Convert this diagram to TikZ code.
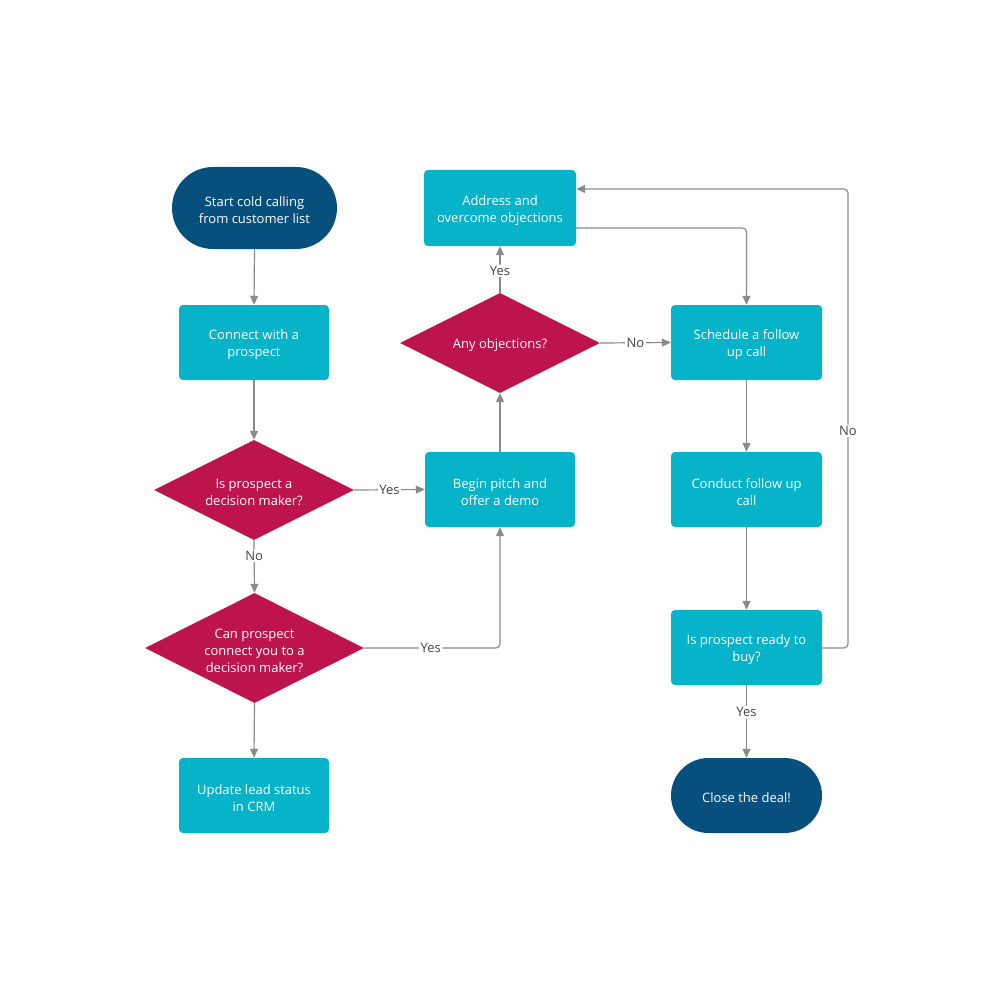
\documentclass[tikz,border=0pt]{standalone}
\usepackage{fontspec}
\setmainfont{Open Sans}
\usetikzlibrary{shapes.geometric,arrows.meta}
\definecolor{navy}{HTML}{07507E}
\definecolor{teal}{HTML}{07B3C9}
\definecolor{crim}{HTML}{BE144E}
\definecolor{linec}{HTML}{8A8A8A}
\definecolor{labc}{HTML}{444444}
\begin{document}
\begin{tikzpicture}[x=1pt,y=-1pt,
  base/.style={inner sep=0pt},
  txt/.style={text=white,font=\fontsize{13}{17}\selectfont,align=center,inner sep=0pt,yshift=-2.5pt},
  procbox/.style={base,fill=teal,rounded corners=4pt,minimum width=150pt,minimum height=75pt},
  termbox/.style={base,fill=navy,rounded corners=37.5pt,minimum width=151pt,minimum height=75pt},
  decbox/.style={base,fill=crim,diamond,aspect=2},
  conn/.style={draw=linec,line width=1.2pt,-{Triangle[length=9pt,width=8pt]},rounded corners=4pt},
  lab/.style={fill=white,text=labc,font=\fontsize{13}{15}\selectfont,inner sep=1.5pt}
]
\useasboundingbox (0,0) rectangle (1000,1000);
\node[termbox,minimum width=165pt,minimum height=82pt,rounded corners=41pt] (start) at (254.5,208) {};
\node[procbox] (connect) at (254,342.5) {};
\node[decbox,minimum width=200pt,minimum height=100pt] (d1) at (254,490) {};
\node[decbox,minimum width=219pt,minimum height=110pt] (d2) at (254.5,648) {};
\node[procbox] (update) at (254,795.5) {};
\node[procbox] (pitch) at (500,489.5) {};
\node[decbox,minimum width=200pt,minimum height=100pt] (obj) at (500,343) {};
\node[procbox,minimum width=152pt,minimum height=76pt] (address) at (500,208) {};
\node[procbox,minimum width=151pt] (sched) at (746.5,342.5) {};
\node[procbox,minimum width=151pt] (conduct) at (746.5,489.5) {};
\node[procbox,minimum width=151pt] (ready) at (746.5,647.5) {};
\node[termbox] (close) at (746.5,795.5) {};

\node[txt] (tstart) at (start) {Start cold calling\\from customer list};
\node[txt] (tconnect) at (connect) {Connect with a\\prospect};
\node[txt] (td1) at (d1) {Is prospect a\\decision maker?};
\node[txt] (td2) at (d2) {Can prospect\\connect you to a\\decision maker?};
\node[txt] (tupdate) at (update) {Update lead status\\in CRM};
\node[txt] (tpitch) at (pitch) {Begin pitch and\\offer a demo};
\node[txt] (tobj) at (obj) {Any objections?};
\node[txt] (taddress) at (address) {Address and\\overcome objections};
\node[txt] (tsched) at (sched) {Schedule a follow\\up call};
\node[txt] (tconduct) at (conduct) {Conduct follow up\\call};
\node[txt] (tready) at (ready) {Is prospect ready to\\buy?};
\node[txt] (tclose) at (close) {Close the deal!};

\coordinate (c1) at (848,648);
\coordinate (c2) at (848,189);
\coordinate (c3) at (746.5,228);
\coordinate (c4) at (500,648);

\draw[conn] (start.south) -- (connect.north);
\draw[conn] (connect.south) -- (d1.north);
\draw[conn] (d1.east) -- node[lab,pos=0.5]{Yes} (pitch.west);
\draw[conn] (d1.south) -- node[lab,pos=0.3]{No} (d2.north);
\draw[conn] (d2.south) -- (update.north);
\draw[conn] (d2.east) -- node[lab,pos=0.49]{Yes} (c4) -- (pitch.south);
\draw[conn] (pitch.north) -- (obj.south);
\draw[conn] (obj.north) -- node[lab,pos=0.47]{Yes} (address.south);
\draw[conn] (obj.east) -- node[lab,pos=0.5]{No} (sched.west);
\draw[conn] (address.east |- c3) -- (c3) -- (sched.north);
\draw[conn] (sched.south) -- (conduct.north);
\draw[conn] (conduct.south) -- (ready.north);
\draw[conn] (ready.south) -- node[lab,pos=0.37]{Yes} (close.north);
\draw[conn] (ready.east |- c1) -- (c1) -- node[lab,pos=0.473]{No} (c2) -- (address.east |- c2);
\end{tikzpicture}
\end{document}
